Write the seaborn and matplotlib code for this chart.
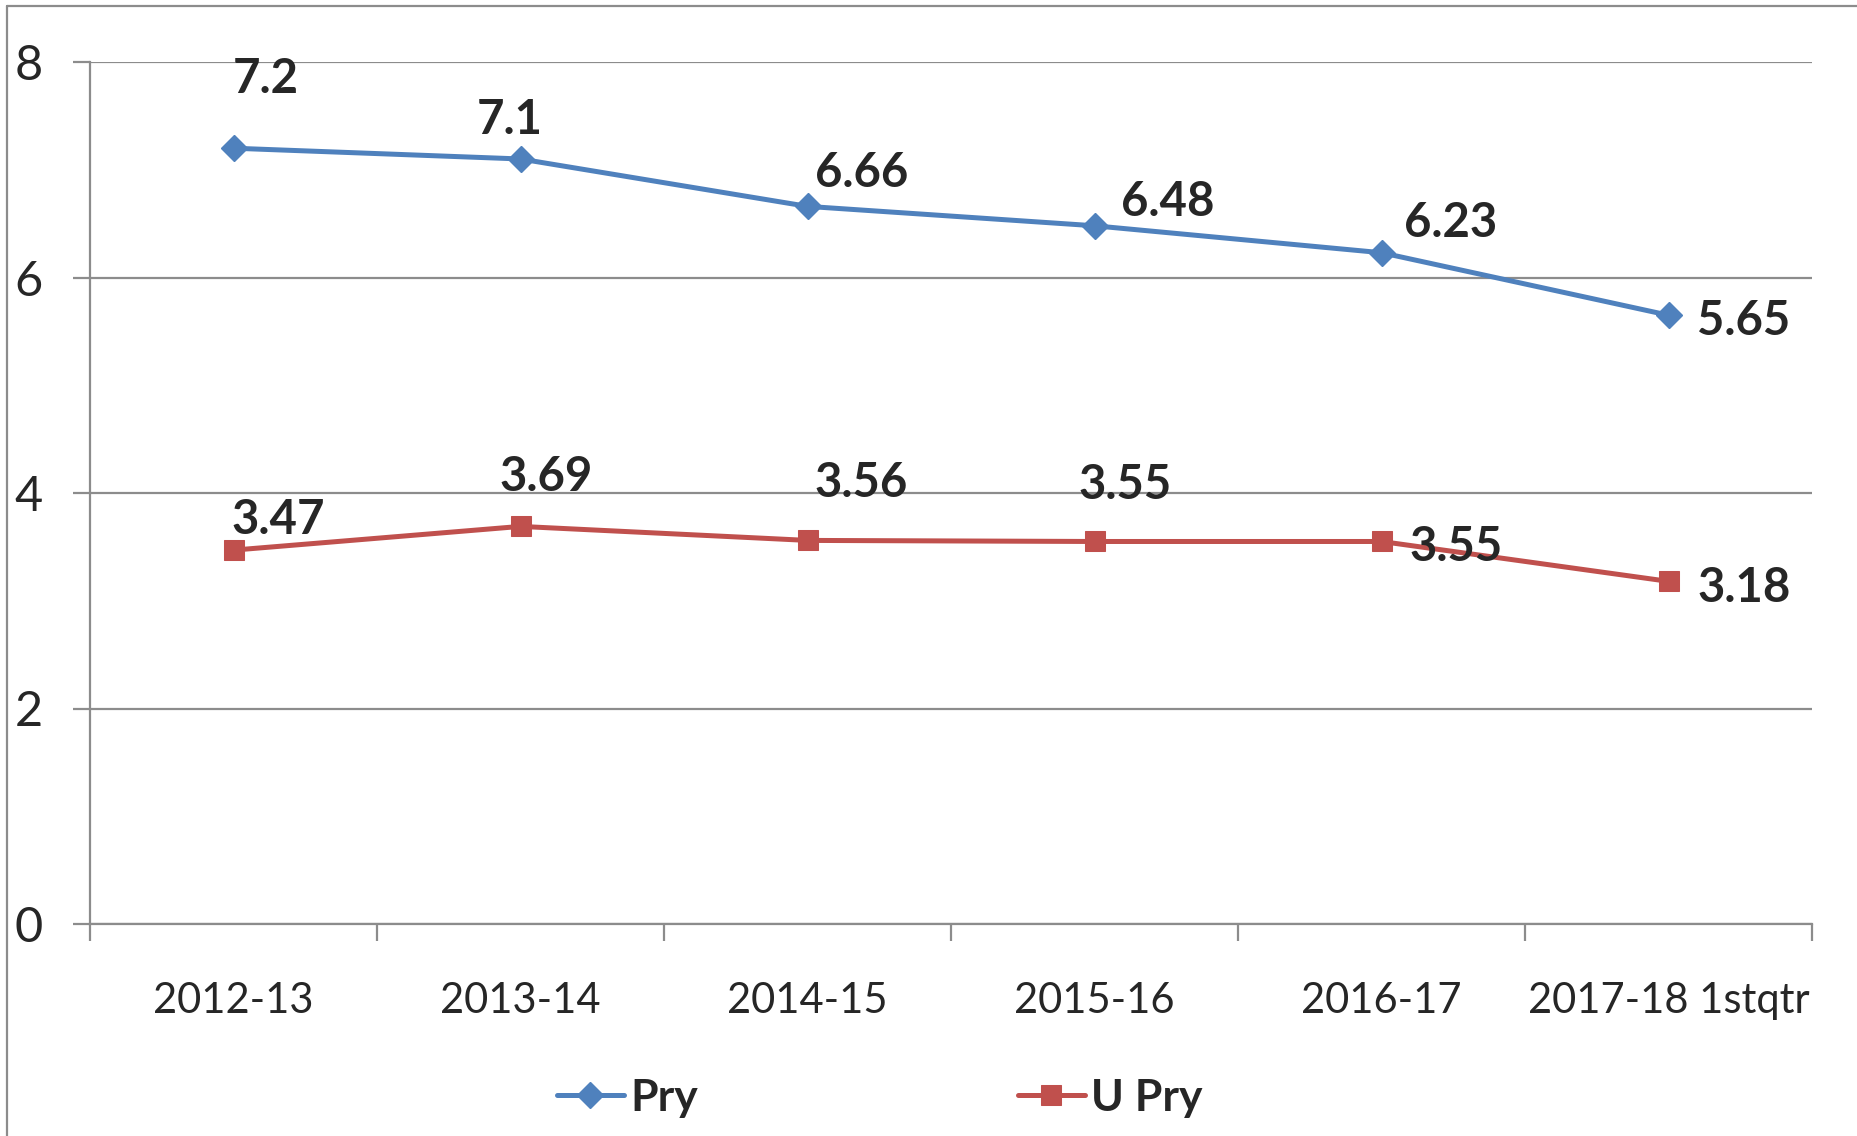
import matplotlib
matplotlib.use("Agg")
import matplotlib.pyplot as plt
import seaborn as sns
import pandas as pd
from matplotlib.lines import Line2D

# ---------------- Data ----------------
years = ["2012-13", "2013-14", "2014-15", "2015-16", "2016-17", "2017-18 1stqtr"]
pry = [7.2, 7.1, 6.66, 6.48, 6.23, 5.65]
upry = [3.47, 3.69, 3.56, 3.55, 3.55, 3.18]

# label offsets (pixels) for the data labels
pry_offsets = [(32, 69), (-11, 39), (54, 33), (73, 24), (69, 30), (75, -6)]
upry_offsets = [(45, 30), (26, 49), (54, 57), (31, 56), (75, -6), (76, -7)]

df = pd.DataFrame({"Year": years, "Pry": pry, "U Pry": upry})

sns.set_style("white")
FONT = ["Lato", "DejaVu Sans"]
plt.rcParams["font.family"] = FONT

blue = "#4F81BD"
red = "#C0504D"
grey = "#8C8C8C"

fig = plt.figure(figsize=(18.57, 11.36), dpi=100)
ax = fig.add_axes([90 / 1857, 1 - 924 / 1136, (1812 - 90) / 1857, (924 - 62) / 1136])

sns.lineplot(data=df, x="Year", y="Pry", ax=ax, color=blue, linewidth=3.6,
             marker="D", markersize=13.5, markeredgecolor=blue, markeredgewidth=1,
             label="Pry", sort=False)
sns.lineplot(data=df, x="Year", y="U Pry", ax=ax, color=red, linewidth=3.6,
             marker="s", markersize=15, markeredgecolor=red,
             label="U Pry", sort=False)

for i, (v, off) in enumerate(zip(pry, pry_offsets)):
    ax.annotate(f"{v:g}", (i, v), xytext=off, textcoords="offset pixels",
                ha="center", va="center", fontsize=34, fontweight="bold")
for i, (v, off) in enumerate(zip(upry, upry_offsets)):
    ax.annotate(f"{v:g}", (i, v), xytext=off, textcoords="offset pixels",
                ha="center", va="center", fontsize=34, fontweight="bold")

ax.set_xlim(-0.5, len(years) - 0.5)
ax.set_ylim(0, 8)
ax.set_yticks([0, 2, 4, 6, 8])
ax.set_xticks(range(len(years)))
ax.set_xticklabels(years)
ax.set_xticks([i - 0.5 for i in range(len(years) + 1)], minor=True)
ax.set_xlabel("")
ax.set_ylabel("")

ax.grid(axis="y", color=grey, linewidth=1.6)
ax.set_axisbelow(True)
for side in ["top", "right"]:
    ax.spines[side].set_visible(False)
ax.spines["left"].set_color(grey)
ax.spines["bottom"].set_color(grey)
ax.spines["left"].set_linewidth(1.6)
ax.spines["bottom"].set_linewidth(1.6)

ax.tick_params(axis="y", which="major", length=12, width=1.6, color=grey,
               direction="out", labelsize=35, pad=22, left=True)
ax.tick_params(axis="x", which="major", length=0, labelsize=30, pad=42, bottom=True)
ax.tick_params(axis="x", which="minor", length=12, width=1.6, color=grey,
               direction="out", bottom=True)

handles, labels = ax.get_legend_handles_labels()
ax.legend(handles, labels, loc="center", bbox_to_anchor=(880 / 1857, 1 - 1098 / 1136),
          bbox_transform=fig.transFigure, ncol=2, frameon=False,
          prop={"family": FONT, "weight": "bold", "size": 32},
          handlelength=1.5, handletextpad=0.15, columnspacing=7.2)

# outer chart frame
fig.add_artist(Line2D([7 / 1857, 7 / 1857], [0, 1 - 6 / 1136], color=grey, linewidth=1.6,
                      transform=fig.transFigure))
fig.add_artist(Line2D([7 / 1857, 1], [1 - 6 / 1136, 1 - 6 / 1136], color=grey, linewidth=1.6,
                      transform=fig.transFigure))

plt.savefig("out.png", dpi=100)
